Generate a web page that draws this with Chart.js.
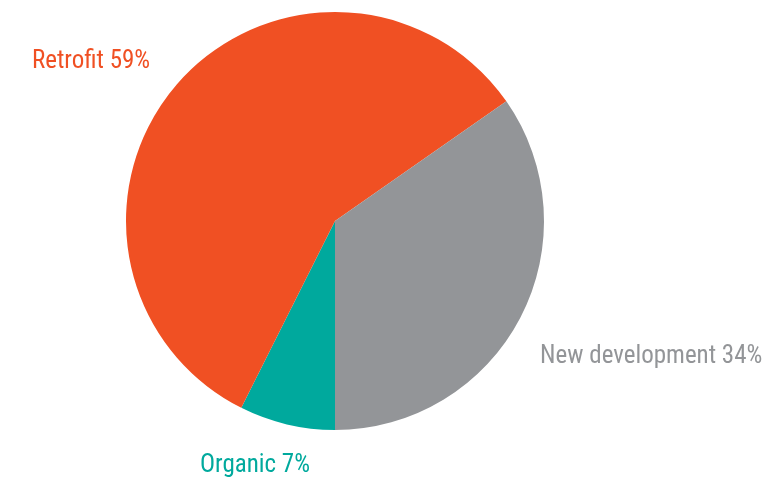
<!DOCTYPE html>
<html>
<head>
<meta charset="utf-8">
<script src="https://cdn.jsdelivr.net/npm/chart.js@4/dist/chart.umd.min.js"></script>
<style>
  html, body { margin: 0; padding: 0; background: #fff; }
  #pie { display: block; }
</style>
</head>
<body>
<canvas id="pie" width="777" height="482"></canvas>
<script>
// Slices, starting at 6 o'clock and going clockwise
const categories = ['Organic', 'Retrofit', 'New development'];
// slice sizes as drawn
const shares = [7.4, 57.9, 34.7];
// percentages printed in the labels
const labelPercents = [7, 59, 34];
const colors = ['#00a99d', '#f05023', '#939598'];

// Label placement relative to pie centre, in units of radius (dx, dy from centre to text left / middle)
const labelSpots = [
    { dx: -0.646, dy: 1.172 },
    { dx: -1.450, dy: -0.761 },
    { dx: 0.981, dy: 0.651 }
];

const labelFont = '25px "Liberation Sans Narrow", "Roboto Condensed", "Arial Narrow", Roboto, sans-serif';

const sliceLabels = {
    id: 'sliceLabels',
    afterDraw(chart) {
        const ctx = chart.ctx;
        const arcs = chart.getDatasetMeta(0).data;
        if (!arcs.length) return;
        const cx = arcs[0].x, cy = arcs[0].y, r = arcs[0].outerRadius;
        ctx.save();
        ctx.font = labelFont;
        ctx.textAlign = 'left';
        ctx.textBaseline = 'middle';
        categories.forEach((name, i) => {
            const spot = labelSpots[i];
            ctx.fillStyle = colors[i];
            ctx.fillText(name + ' ' + labelPercents[i] + '%', cx + spot.dx * r, cy + spot.dy * r);
        });
        ctx.restore();
    }
};

new Chart(document.getElementById('pie'), {
    type: 'pie',
    data: {
        labels: categories,
        datasets: [{
            data: shares,
            backgroundColor: colors,
            borderWidth: 0
        }]
    },
    options: {
        responsive: false,
        animation: false,
        rotation: 180,
        layout: { padding: { top: 12, bottom: 52, left: 0, right: 107 } },
        plugins: {
            legend: { display: false },
            tooltip: { enabled: false }
        }
    },
    plugins: [sliceLabels]
});
</script>
</body>
</html>
